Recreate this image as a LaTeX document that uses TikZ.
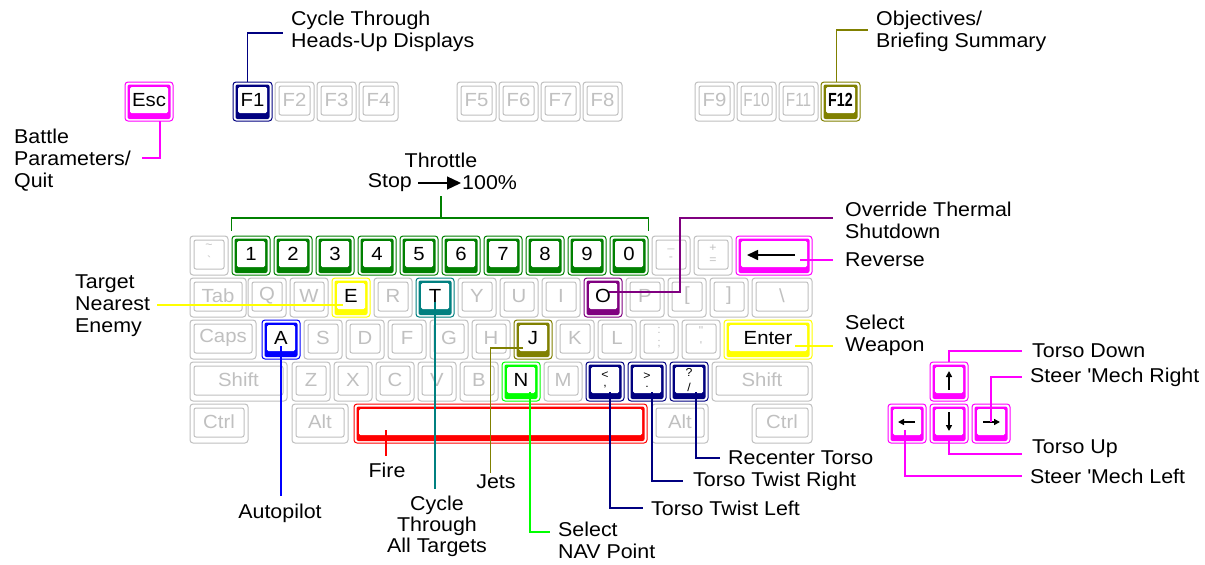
\documentclass[tikz,border=0pt]{standalone}
\usepackage{fontspec}
\usepackage{graphicx}
\setmainfont{Liberation Sans}[FakeStretch=1.07]
\usetikzlibrary{calc,arrows.meta}
\definecolor{kgray}{HTML}{C0C0C0}
\definecolor{kmag}{HTML}{FF00FF}
\definecolor{knavy}{HTML}{000080}
\definecolor{kolive}{HTML}{808000}
\definecolor{kgreen}{HTML}{008000}
\definecolor{kyellow}{HTML}{FFFF00}
\definecolor{kteal}{HTML}{008080}
\definecolor{kpurple}{HTML}{800080}
\definecolor{kblue}{HTML}{0000FF}
\definecolor{klime}{HTML}{00FF00}
\definecolor{kred}{HTML}{FF0000}
\tikzset{
  keyline/.style={line width=1pt},
  keylbl/.style={font=\fontsize{19}{18}\selectfont, inner sep=0pt, align=center},
  lbl/.style={font=\fontsize{20}{22}\selectfont, inner sep=0pt, align=left, anchor=west},
  lblc/.style={font=\fontsize{20}{21}\selectfont, inner sep=0pt, align=center, anchor=center},
  conn/.style={line width=1.3pt},
  glyph/.style={line width=1.5pt, -{Triangle[length=6pt,width=6pt]}},
}
\newcommand{\twol}[2]{{\fontsize{11.5}{10}\selectfont\shortstack{#1\\[4pt]#2}}}
% gray key: name x y w label
\newcommand{\gkey}[5]{%
  \draw[kgray,keyline,rounded corners=3pt] (#2,#3) rectangle ++(#4,39);
  \draw[kgray,keyline,rounded corners=2pt] (#2+4,#3+4) rectangle ++(#4-8,29);
  \node[keylbl,text=kgray,minimum width=#4,minimum height=36] (#1) at (#2+#4/2,#3+18) {#5};
}
% active key: name x y w colour label
\newcommand{\akey}[6]{%
  \draw[#5,keyline,rounded corners=3pt] (#2,#3) rectangle ++(#4,39);
  \fill[#5,rounded corners=2pt] (#2+2.5,#3+2.5) rectangle ++(#4-5,34.5);
  \fill[white,rounded corners=1.5pt] (#2+5,#3+5) rectangle ++(#4-10,26);
  \node[keylbl,minimum width=#4,minimum height=36] (#1) at (#2+#4/2,#3+18) {#6};
}
\begin{document}
\begin{tikzpicture}[x=1pt,y=-1pt]
\fill[white] (0,0) rectangle (1205,565);
\useasboundingbox (0,0) rectangle (1205,565);

% ---------- function row
\akey{kEsc}{125}{82}{48}{kmag}{Esc}
\akey{kF1}{233}{82}{39}{knavy}{F1}
\gkey{kF2}{275}{82}{39}{F2}
\gkey{kF3}{317}{82}{39}{F3}
\gkey{kF4}{359}{82}{39}{F4}
\gkey{kF5}{457}{82}{39}{F5}
\gkey{kF6}{499}{82}{39}{F6}
\gkey{kF7}{541}{82}{39}{F7}
\gkey{kF8}{583}{82}{39}{F8}
\gkey{kF9}{695}{82}{39}{F9}
\gkey{kF10}{737}{82}{39}{\scalebox{0.75}[1]{F10}}
\gkey{kF11}{779}{82}{39}{\scalebox{0.75}[1]{F11}}
\akey{kF12}{821}{82}{39}{kolive}{\scalebox{0.7}[1]{\bfseries F12}}

% ---------- number row
\gkey{kTil}{190}{236}{38}{\twol{\textasciitilde}{\textasciigrave}}
\foreach \d [count=\i from 0] in {1,2,3,4,5,6,7,8,9,0} {\akey{k\d}{232+42*\i}{236}{38}{kgreen}{\d}}
\gkey{kMin}{652}{236}{38}{\twol{\_}{-}}
\gkey{kPlus}{694}{236}{38}{\twol{+}{=}}
\akey{kBS}{736}{236}{76}{kmag}{}
\draw[line width=1.6pt,-{Triangle[length=11pt,width=10pt]}] ($(kBS.center)+(21,1)$) -- ($(kBS.center)+(-27,1)$);

% ---------- tab row
\gkey{kTab}{190}{278}{56}{Tab}
\foreach \l/\x in {Q/248,W/290,R/374,Y/458,U/500,I/542,P/626} {\gkey{k\l}{\x}{278}{38}{\l}}
\gkey{kLbr}{668}{278}{38}{[}
\gkey{kRbr}{710}{278}{38}{]}
\gkey{kBsl}{752}{278}{60}{\textbackslash}
\akey{kE}{332}{278}{38}{kyellow}{E}
\akey{kT}{416}{278}{38}{kteal}{T}
\akey{kO}{584}{278}{38}{kpurple}{O}

% ---------- caps row
\gkey{kCaps}{190}{320}{66}{Caps}
\foreach \l/\x in {S/304,D/346,F/388,G/430,H/472,K/556,L/598} {\gkey{k\l}{\x}{320}{38}{\l}}
\gkey{kSemi}{640}{320}{38}{\twol{:}{;}}
\gkey{kQuo}{682}{320}{38}{\twol{\textquotedbl}{\textquotesingle}}
\akey{kA}{262}{320}{38}{kblue}{A}
\akey{kJ}{514}{320}{38}{kolive}{J}
\akey{kEnter}{724}{320}{88}{kyellow}{Enter}

% ---------- shift row
\gkey{kShL}{190}{362}{97}{Shift}
\foreach \l/\x in {Z/292,X/334,C/376,V/418,B/460,M/544} {\gkey{k\l}{\x}{362}{38}{\l}}
\akey{kN}{502}{362}{38}{klime}{N}
\akey{kLt}{586}{362}{38}{knavy}{\twol{<}{,}}
\akey{kGt}{628}{362}{38}{knavy}{\twol{>}{.}}
\akey{kQm}{670}{362}{38}{knavy}{\twol{?}{/}}
\gkey{kShR}{712}{362}{100}{Shift}

% ---------- bottom row
\gkey{kCtrlL}{190}{404}{58}{Ctrl}
\gkey{kAltL}{292}{404}{56}{Alt}
\akey{kSpace}{354}{404}{293}{kred}{}
\gkey{kAltR}{652}{404}{56}{Alt}
\gkey{kCtrlR}{752}{404}{60}{Ctrl}

% ---------- arrow keys
\akey{kUp}{930}{362}{38}{kmag}{}
\akey{kLf}{888}{404}{38}{kmag}{}
\akey{kDn}{930}{404}{38}{kmag}{}
\akey{kRt}{972}{404}{38}{kmag}{}
\draw[glyph] ($(kUp.center)+(0,10)$) -- ($(kUp.center)+(0,-9)$);
\draw[glyph] ($(kDn.center)+(0,-10)$) -- ($(kDn.center)+(0,9)$);
\draw[glyph] ($(kLf.center)+(8,0)$) -- ($(kLf.center)+(-9,0)$);
\draw[glyph] ($(kRt.center)+(-8,0)$) -- ($(kRt.center)+(9,0)$);

% ---------- labels
\node[lbl] (lHUD) at (291,31) {Cycle Through\\Heads-Up Displays};
\node[lbl] (lObj) at (876,31) {Objectives/\\Briefing Summary};
\node[lbl] (lEsc) at (14,160) {Battle\\Parameters/\\Quit};
\node[lblc] (lThr) at (441,160) {Throttle};
\node[lbl,anchor=east] (lStop) at (412,183) {Stop};
\node[lbl] (lPct) at (462,183) {100\%};
\node[lbl] (lOver) at (845,220) {Override Thermal\\Shutdown};
\node[lbl] (lRev) at (845,260) {Reverse};
\node[lbl] (lSel) at (845,335) {Select\\Weapon};
\node[lbl] (lTarget) at (75,306) {Target\\Nearest\\Enemy};
\node[lbl] (lTD) at (1032,351) {Torso Down};
\node[lbl] (lSR) at (1030,377) {Steer \textquotesingle Mech Right};
\node[lbl] (lTU) at (1032,449) {Torso Up};
\node[lbl] (lSL) at (1030,476) {Steer \textquotesingle Mech Left};
\node[lbl] (lRec) at (728,458) {Recenter Torso};
\node[lbl] (lTTR) at (693,481) {Torso Twist Right};
\node[lbl] (lTTL) at (651,508) {Torso Twist Left};
\node[lbl] (lNav) at (558,540) {Select\\NAV Point};
\node[lblc] (lJets) at (496,482) {Jets};
\node[lblc] (lFire) at (387,470) {Fire};
\node[lblc] (lAuto) at (280,513) {Autopilot};
\node[lblc] (lCyc) at (437,526) {Cycle\\Through\\All Targets};

% ---------- coordinates for free ends
\coordinate (escEnd) at (142,158);
\coordinate (thrMid) at (441,218);
\coordinate (thrTop) at (441,196);
\coordinate (ovBend) at (680,218);
\coordinate (ovEnd) at (833,218);
\coordinate (selEnd) at (833,346);
\coordinate (fireTop) at (386,430);

% ---------- connectors
\draw[knavy,conn] ($(kF1.north)+(-5,0)$) |- ($(lHUD.west)+(-8,2)$);
\draw[kolive,conn] ($(kF12.north)+(-4,0)$) |- ($(lObj.west)+(-8,-1)$);
\draw[kmag,conn] ($(kEsc.south)+(11,3)$) |- (escEnd);
\draw[kgreen,conn] ($(k1.north west)+(0,-5)$) |- (thrMid) -| ($(k0.north east)+(0,-5)$);
\draw[kgreen,conn] (thrMid) -- (thrTop);
\draw[line width=1.3pt,-{Triangle[length=14pt,width=13pt]}] ($(lStop.east |- lPct.west)+(6,0)$) -- ($(lPct.west)+(-1,0)$);
\draw[kpurple,conn] ($(kO.center)+(6,-4)$) -| (ovBend) -- (ovEnd);
\draw[kmag,conn] ($(kBS.east |- lRev.west)+(-12,0)$) -- ($(lRev.west)+(-12,0)$);
\draw[kyellow,conn] ($(kEnter.east |- selEnd)+(-17,0)$) -- (selEnd);
\draw[kyellow,conn] ($(lTarget.east)+(7,-1)$) -- ($(lTarget.east -| kE.center)+(-8,-1)$);
\draw[kblue,conn] ($(kA.center)+(0,8)$) -- ($(kA.center |- lAuto.north)+(0,-7)$);
\draw[kred,conn] (fireTop) -- ($(fireTop |- lFire.north)+(0,-6)$);
\draw[kteal,conn] ($(kT.center)+(0,6)$) -- ($(kT.center |- lCyc.north)+(0,-6)$);
\draw[kolive,conn] ($(kJ.center)+(-10,10)$) -| ($(lJets.north west)+(14,-2)$);
\draw[klime,conn] ($(kN.center)+(9,12)$) |- ($(lNav.west)+(-8,-8)$);
\draw[knavy,conn] ($(kLt.center)+(5,12)$) |- ($(lTTL.west)+(-8,0)$);
\draw[knavy,conn] ($(kGt.center)+(5,12)$) |- ($(lTTR.west)+(-10,0)$);
\draw[knavy,conn] ($(kQm.center)+(7,12)$) |- ($(lRec.west)+(-8,0)$);
\draw[kmag,conn] (kUp.north) |- ($(lTD.west)+(-10,0)$);
\draw[kmag,conn] (kRt.center) |- ($(lSR.west)+(-8,0)$);
\draw[kmag,conn] (kDn.south) |- ($(lTU.west)+(-10,5)$);
\draw[kmag,conn] ($(kLf.center)+(-2,8)$) |- ($(lSL.west)+(-8,0)$);
\end{tikzpicture}
\end{document}
